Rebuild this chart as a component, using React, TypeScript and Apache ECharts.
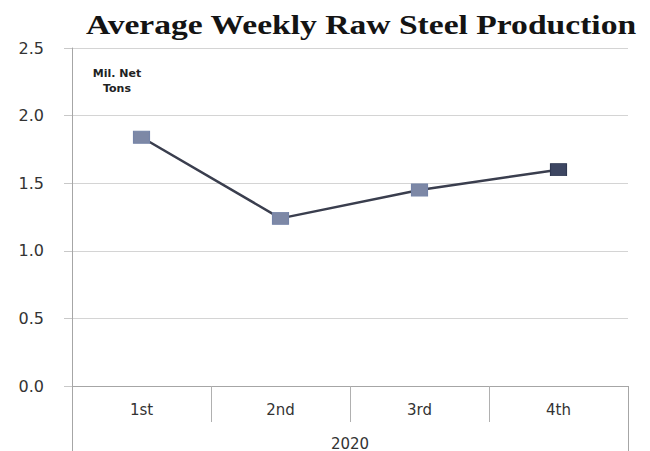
import React, { useEffect, useRef } from "react";
import * as echarts from "echarts";

const categories = ["1st", "2nd", "3rd", "4th"];
const groupLabels = ["2020"];
const production = [1.84, 1.24, 1.45, 1.6];
const yTicks = { min: 0, max: 2.5, interval: 0.5 };

export default function App() {
  const ref = useRef<HTMLDivElement>(null);
  useEffect(() => {
    if (!ref.current) return;
    const chart = echarts.init(ref.current, undefined, { renderer: "svg" });
    const sans = "DejaVu Sans";
    chart.setOption({
      animation: false,
      backgroundColor: "#ffffff",
      graphic: [
        {
          type: "text",
          x: 361,
          y: 24,
          scaleX: 1.2,
          style: {
            text: "Average Weekly Raw Steel Production",
            fontFamily: "Liberation Serif",
            fontWeight: "bold",
            fontSize: 28,
            fill: "#141414",
            textAlign: "center",
            textVerticalAlign: "middle",
          },
        },
        {
          type: "text",
          x: 117,
          y: 81,
          style: {
            text: "Mil. Net\nTons",
            fontFamily: sans,
            fontWeight: "bold",
            fontSize: 11,
            lineHeight: 15,
            fill: "#222222",
            textAlign: "center",
            textVerticalAlign: "middle",
          },
        },
      ],
      grid: { left: 72, right: 22, top: 48, bottom: 65 },
      xAxis: [
        {
          type: "category",
          data: categories,
          position: "bottom",
          boundaryGap: true,
          axisLine: { show: true, lineStyle: { color: "#a6a6a6", width: 1 } },
          axisTick: { show: true, length: 36, lineStyle: { color: "#b0b0b0" } },
          axisLabel: { margin: 16, fontFamily: sans, fontSize: 15, color: "#333333" },
        },
        {
          type: "category",
          data: groupLabels,
          position: "bottom",
          boundaryGap: true,
          axisLine: { show: false },
          axisTick: { show: true, length: 66, lineStyle: { color: "#a6a6a6" } },
          axisLabel: { margin: 50, fontFamily: sans, fontSize: 15, color: "#333333" },
        },
      ],
      yAxis: {
        type: "value",
        min: yTicks.min,
        max: yTicks.max,
        interval: yTicks.interval,
        axisLine: { show: true, lineStyle: { color: "#a6a6a6" } },
        axisTick: { show: true, length: 8, lineStyle: { color: "#c8c8c8" } },
        splitLine: { show: true, lineStyle: { color: "#d4d4d4" } },
        axisLabel: {
          margin: 28,
          fontFamily: sans,
          fontSize: 16,
          color: "#333333",
          formatter: (v: number) => v.toFixed(1),
        },
      },
      series: [
        {
          type: "line",
          xAxisIndex: 0,
          data: production.map((v, i) =>
            i === production.length - 1
              ? { value: v, itemStyle: { color: "#3d4662", borderColor: "#2f3852" } }
              : v
          ),
          symbol: "rect",
          symbolSize: [16, 12],
          lineStyle: { color: "#3a3e4e", width: 2.5 },
          itemStyle: { color: "#7d88a6", borderColor: "#7584a8", borderWidth: 1 },
          z: 3,
        },
      ],
    });
    return () => chart.dispose();
  }, []);
  return (
    <div
      ref={ref}
      style={{ position: "fixed", left: 0, top: 0, width: 650, height: 451 }}
    />
  );
}
